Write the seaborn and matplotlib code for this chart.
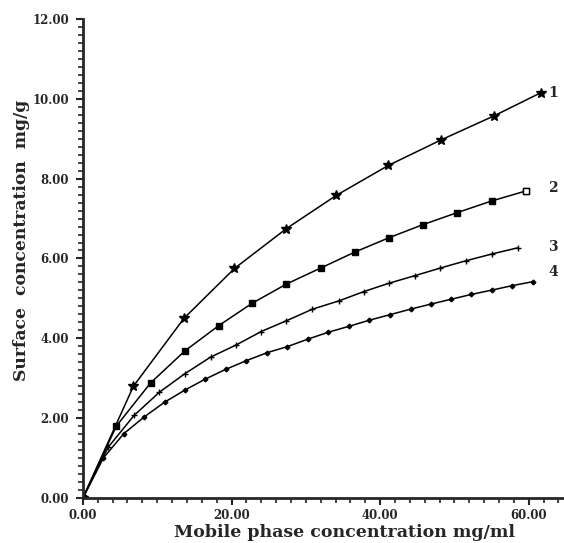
import numpy as np
import pandas as pd
import matplotlib
matplotlib.use("Agg")
import matplotlib.pyplot as plt
import seaborn as sns
from matplotlib.ticker import MultipleLocator, FormatStrFormatter

# isotherm data (mobile phase conc mg/ml, surface conc mg/g)
x1 = [0, 6.8, 13.6, 20.4, 27.4, 34.1, 41.1, 48.2, 55.3, 61.6]
y1 = [0, 2.80, 4.50, 5.75, 6.75, 7.58, 8.33, 8.97, 9.57, 10.15]

x2 = [0, 4.5, 9.1, 13.7, 18.3, 22.8, 27.4, 32.0, 36.6, 41.2, 45.8, 50.4, 55.0, 59.6]
y2 = [0, 1.80, 2.88, 3.68, 4.32, 4.88, 5.36, 5.76, 6.16, 6.52, 6.85, 7.15, 7.44, 7.69]

x3 = [0, 3.4, 6.9, 10.3, 13.7, 17.2, 20.6, 24.0, 27.4, 30.9, 34.5, 37.8, 41.2,
      44.7, 48.1, 51.5, 55.0, 58.6]
y3 = [0, 1.27, 2.07, 2.65, 3.11, 3.53, 3.83, 4.17, 4.44, 4.73, 4.94, 5.17, 5.38,
      5.57, 5.76, 5.94, 6.11, 6.27]

x4 = [0, 2.75, 5.5, 8.25, 11.0, 13.8, 16.5, 19.2, 22.0, 24.8, 27.5, 30.3, 33.0,
      35.8, 38.5, 41.3, 44.1, 46.9, 49.6, 52.3, 55.1, 57.8, 60.6]
y4 = [0, 1.00, 1.61, 2.03, 2.40, 2.71, 2.98, 3.22, 3.44, 3.64, 3.79, 3.98, 4.15,
      4.30, 4.45, 4.59, 4.73, 4.86, 4.98, 5.10, 5.21, 5.32, 5.42]

curve_labels = ["1", "2", "3", "4"]
label_y = [10.15, 7.77, 6.29, 5.66]

sns.set_style("ticks")
plt.rcParams['font.family'] = ['DejaVu Serif']

fig = plt.figure(figsize=(5.64, 5.43), dpi=100)
ax = fig.add_axes([0.147, 0.083, 0.851, 0.882])

curves = [(x1, y1, '*', 7), (x2, y2, 's', 3.8), (x3, y3, '+', 5), (x4, y4, 'D', 2.4)]
for (xs, ys, mk, ms) in curves:
    df = pd.DataFrame({"x": xs, "y": ys})
    sns.lineplot(data=df, x="x", y="y", ax=ax, color="black", linewidth=1.1,
                 marker=mk, markersize=ms, markeredgecolor="black",
                 markeredgewidth=1.0, sort=False, estimator=None)

# last point of curve 2 is an open square
sns.scatterplot(x=x2[-1:], y=y2[-1:], ax=ax, marker='s', s=14, color="white",
                edgecolor="black", linewidth=1.0, zorder=5)

for lab, ly in zip(curve_labels, label_y):
    ax.text(63.3, ly, lab, fontsize=10, fontweight="bold", va="center", ha="center")

ax.set_xlim(0, 64.6)
ax.set_ylim(0, 12)
ax.xaxis.set_major_locator(MultipleLocator(20))
ax.xaxis.set_minor_locator(MultipleLocator(2))
ax.yaxis.set_major_locator(MultipleLocator(2))
ax.yaxis.set_minor_locator(MultipleLocator(0.2))
ax.xaxis.set_major_formatter(FormatStrFormatter("%.2f"))
ax.yaxis.set_major_formatter(FormatStrFormatter("%.2f"))
ax.tick_params(which="major", length=5, width=1.5, labelsize=8.5, pad=5)
ax.tick_params(axis="x", which="major", pad=3)
ax.tick_params(which="minor", length=3.5, width=1.2)
for t in ax.get_xticklabels() + ax.get_yticklabels():
    t.set_fontweight("bold")

ax.set_xlabel("Mobile phase concentration mg/ml", fontsize=12.5, fontweight="bold")
ax.set_ylabel("Surface  concentration  mg/g", fontsize=12.3, fontweight="bold")
ax.xaxis.label.set_va("center")
ax.yaxis.label.set_va("center")
ax.xaxis.set_label_coords(0.546, -0.073)
ax.yaxis.set_label_coords(-0.127, 0.537)
sns.despine(ax=ax)
ax.spines["left"].set_linewidth(2)
ax.spines["bottom"].set_linewidth(2)

fig.savefig("out.png", dpi=100)
